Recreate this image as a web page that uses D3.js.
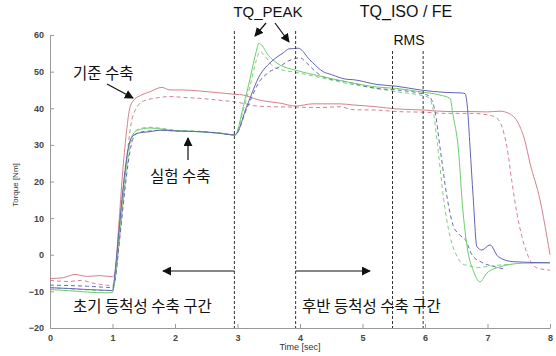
<!DOCTYPE html>
<html>
<head>
<meta charset="utf-8">
<script src="https://cdn.jsdelivr.net/npm/d3@7"></script>
<style>
  body { margin: 0; background: #fff; }
  svg { display: block; }
</style>
</head>
<body>
<script>
// 기준 수축 (red), 실험 수축 (blue / green), solid + dashed trials
const tRefSolid = [0, 0.2, 0.4, 0.6, 0.8, 1.0, 1.04, 1.1, 1.16, 1.22, 1.27, 1.33, 1.45, 1.6, 1.79, 1.92, 2.1, 2.4, 2.72, 2.96, 3.1, 3.31, 3.5, 3.68, 3.93, 4.2, 4.64, 4.85, 5.23, 5.55, 6.0, 6.35, 6.72, 7.0, 7.2, 7.35, 7.49, 7.6, 7.68, 7.84, 7.95, 8.0];
const vRefSolid = [-6.5, -6.3, -5.4, -5.9, -5.7, -6.0, -5, 8, 22, 33, 39.5, 42, 43.5, 44.5, 45.7, 45.0, 45.0, 44.7, 44.2, 43.8, 43.6, 42.4, 41.8, 41.4, 40.6, 41.2, 41.2, 40.9, 40.4, 39.8, 39.5, 39.1, 39.1, 39.0, 39.2, 38.5, 36, 31, 25, 15, 5, 0];

const tRefDash = [0, 0.3, 0.5, 0.7, 0.9, 1.0, 1.06, 1.12, 1.18, 1.24, 1.3, 1.4, 1.5, 1.7, 1.92, 2.1, 2.4, 2.7, 2.93, 3.1, 3.31, 3.6, 3.93, 4.32, 4.64, 4.85, 5.23, 5.55, 6.0, 6.35, 6.72, 7.0, 7.15, 7.23, 7.31, 7.39, 7.47, 7.55, 7.63, 7.79, 8.0];
const vRefDash = [-7.0, -7.3, -7.0, -7.8, -8.3, -8.5, -4, 6, 17, 28, 36, 40.5, 42, 42.8, 43.2, 43.0, 42.7, 42.2, 41.8, 41.3, 40.6, 40.4, 40.3, 40.2, 40.4, 39.6, 39.5, 39.1, 38.9, 38.6, 38.6, 38.2, 37.3, 35, 29.5, 20, 11.4, 5, 0.5, -3.6, -4.2];

const tBlueSolid = [0, 0.3, 0.6, 0.9, 1.0, 1.05, 1.1, 1.15, 1.2, 1.25, 1.3, 1.4, 1.6, 1.76, 2.0, 2.4, 2.7, 2.96, 3.15, 3.36, 3.52, 3.65, 3.73, 3.82, 3.9, 3.97, 4.05, 4.11, 4.2, 4.37, 4.5, 4.75, 4.85, 5.23, 5.55, 5.92, 6.35, 6.56, 6.64, 6.68, 6.72, 6.77, 6.83, 6.91, 7.04, 7.17, 7.41, 8.0];
const vBlueSolid = [-9.0, -9.2, -9.5, -9.7, -9.8, -3, 6, 15, 23, 29, 31.8, 33.2, 33.6, 34.0, 33.8, 33.6, 33.2, 32.7, 40.6, 49.1, 52.4, 54.2, 55.1, 56.2, 56.3, 56.4, 55.5, 54.1, 52.5, 50.0, 49.2, 47.9, 47.8, 46.5, 46.0, 45.0, 44.3, 44.2, 44.0, 40, 29.5, 15.9, 2.2, 1.3, 2.7, -0.5, -1.9, -2.2];

const tBlueDash = [0, 0.3, 0.6, 0.9, 1.0, 1.05, 1.1, 1.15, 1.2, 1.25, 1.3, 1.35, 1.45, 1.6, 1.8, 2.0, 2.4, 2.7, 2.96, 3.15, 3.36, 3.5, 3.68, 3.8, 3.93, 4.0, 4.11, 4.25, 4.37, 4.75, 5.23, 5.55, 5.92, 6.05, 6.15, 6.25, 6.35, 6.45, 6.55, 6.65, 6.75, 6.9, 7.1, 7.3];
const vBlueDash = [-8.3, -8.4, -8.6, -8.9, -9.0, -6, 2, 10, 18, 25, 30, 32.5, 33.5, 33.8, 34.0, 33.8, 33.6, 33.2, 32.7, 40, 47.5, 49.8, 51.4, 52.8, 53.6, 53.8, 52.3, 50, 48.6, 47.2, 45.4, 45.0, 44.1, 43.5, 40, 28, 16, 8, 5.5, 4, 0, -2.0, -3.2, -4.0];

const tGreenSolid = [0, 0.3, 0.6, 0.9, 1.0, 1.05, 1.1, 1.15, 1.2, 1.25, 1.3, 1.4, 1.6, 1.8, 2.0, 2.4, 2.7, 2.96, 3.1, 3.2, 3.3, 3.34, 3.4, 3.47, 3.58, 3.68, 3.93, 4.37, 4.75, 5.23, 5.55, 5.92, 6.24, 6.4, 6.45, 6.53, 6.61, 6.69, 6.77, 6.88, 6.99, 7.2, 7.57, 8.0];
const vGreenSolid = [-9.5, -9.8, -10.2, -10.4, -10.3, -4, 5, 14, 22, 28.5, 32, 34, 34.6, 34.3, 33.9, 33.6, 33.2, 32.7, 41, 48, 55.5, 57.7, 57, 55, 53, 51.8, 50.4, 48.6, 47.2, 45.8, 45.4, 44.5, 43.6, 42.7, 38, 29.5, 11.4, 0.5, -4.2, -7.4, -5, -3.3, -2.3, -2.2];

const tGreenDash = [0, 0.3, 0.6, 0.9, 1.0, 1.05, 1.1, 1.15, 1.2, 1.25, 1.3, 1.35, 1.45, 1.6, 1.8, 2.0, 2.4, 2.7, 2.96, 3.1, 3.2, 3.3, 3.36, 3.45, 3.57, 3.68, 3.93, 4.37, 4.75, 5.23, 5.55, 5.92, 6.05, 6.12, 6.2, 6.3, 6.4, 6.5, 6.6, 6.7, 6.85, 7.0, 7.2, 7.4];
const vGreenDash = [-9.0, -9.3, -9.6, -9.8, -9.6, -6, 2, 11, 19, 26, 31, 33.5, 34.5, 34.8, 34.5, 34.0, 33.7, 33.3, 32.8, 40, 46, 53, 55.5, 54, 51.4, 50.6, 49.8, 48.2, 46.8, 45.4, 44.5, 43.6, 43.0, 40.4, 30, 15, 5, 0, -2.5, -3.0, -3.5, -3.2, -2.8, -2.6];

const xTicks = [0, 1, 2, 3, 4, 5, 6, 7, 8];
const yTicks = [-20, -10, 0, 10, 20, 30, 40, 50, 60];
const markerTimes = [2.95, 3.93, 5.48, 5.97];

const series = [
  {t: tRefSolid, v: vRefSolid, color: "#d6808c", dash: null},
  {t: tRefDash, v: vRefDash, color: "#d08490", dash: "4,3"},
  {t: tGreenDash, v: vGreenDash, color: "#7cd080", dash: "4,3"},
  {t: tBlueDash, v: vBlueDash, color: "#6a6aa8", dash: "4,3"},
  {t: tGreenSolid, v: vGreenSolid, color: "#6ccc6c", dash: null},
  {t: tBlueSolid, v: vBlueSolid, color: "#6464b4", dash: null}
];

const W = 556, H = 356;
const svg = d3.select("body").append("svg")
    .attr("width", W)
    .attr("height", H);

const x = d3.scaleLinear().domain([0, 8]).range([50, 550]);
const y = d3.scaleLinear().domain([-20, 60]).range([328, 35]);

svg.append("defs").append("marker")
    .attr("id", "arr")
    .attr("viewBox", "0 0 10 10")
    .attr("refX", 9).attr("refY", 5)
    .attr("markerWidth", 9).attr("markerHeight", 9)
    .attr("markerUnits", "userSpaceOnUse")
    .attr("orient", "auto")
    .append("path")
    .attr("d", "M0,0L10,5L0,10z")
    .attr("fill", "#111");

// axes
const xAxis = svg.append("g")
    .attr("transform", "translate(0,328)")
    .call(d3.axisBottom(x).tickValues(xTicks).tickSizeInner(-4).tickSizeOuter(0).tickPadding(7));
const yAxis = svg.append("g")
    .attr("transform", "translate(50,0)")
    .call(d3.axisLeft(y).tickValues(yTicks).tickSizeInner(-4).tickSizeOuter(0).tickPadding(6));

[xAxis, yAxis].forEach(function(g) {
  g.select(".domain").attr("stroke", "#999");
  g.selectAll(".tick line").attr("stroke", "#999");
  g.selectAll(".tick text")
      .attr("fill", "#444")
      .style("font-family", "Liberation Sans, Arial, sans-serif")
      .style("font-size", "9px")
      .style("font-weight", "bold");
});

svg.append("text")
    .attr("x", 300).attr("y", 350)
    .attr("text-anchor", "middle")
    .style("font-family", "Liberation Sans, Arial, sans-serif")
    .style("font-size", "9px")
    .attr("fill", "#333")
    .text("Time [sec]");

svg.append("text")
    .attr("transform", "translate(18,185) rotate(-90)")
    .attr("text-anchor", "middle")
    .style("font-family", "Liberation Sans, Arial, sans-serif")
    .style("font-size", "8px")
    .attr("fill", "#333")
    .text("Torque [Nm]");

// data lines
const line = d3.line()
    .x(function(d) { return x(d[0]); })
    .y(function(d) { return y(d[1]); })
    .curve(d3.curveMonotoneX);

svg.selectAll("path.series")
    .data(series).enter()
    .append("path")
    .attr("class", "series")
    .attr("d", function(s) { return line(d3.zip(s.t, s.v)); })
    .attr("fill", "none")
    .attr("stroke", function(s) { return s.color; })
    .attr("stroke-width", 1)
    .attr("stroke-dasharray", function(s) { return s.dash; });

// vertical marker lines
svg.selectAll("line.marker")
    .data(markerTimes).enter()
    .append("line")
    .attr("class", "marker")
    .attr("x1", function(d) { return x(d); })
    .attr("x2", function(d) { return x(d); })
    .attr("y1", function(d, i) { return i < 2 ? 31 : 51; })
    .attr("y2", 328)
    .attr("stroke", "#333")
    .attr("stroke-width", 1)
    .attr("stroke-dasharray", "3,2");

// annotations
const latin = "Liberation Sans, Arial, sans-serif";
const kor = "Noto Sans CJK KR, sans-serif";

function label(txt, tx, ty, size, font, anchor) {
  svg.append("text")
      .attr("x", tx).attr("y", ty)
      .attr("text-anchor", anchor || "start")
      .style("font-family", font)
      .style("font-size", size + "px")
      .attr("fill", "#111")
      .text(txt);
}
function arrow(x1, y1, x2, y2) {
  svg.append("line")
      .attr("x1", x1).attr("y1", y1)
      .attr("x2", x2).attr("y2", y2)
      .attr("stroke", "#111")
      .attr("stroke-width", 1.2)
      .attr("marker-end", "url(#arr)");
}

label("TQ_PEAK", 268, 17, 15, latin, "middle");
label("TQ_ISO / FE", 406, 17, 16, latin, "middle");
label("RMS", 409, 45, 14, latin, "middle");
label("기준 수축", 73, 79, 15.5, kor);
label("실험 수축", 150, 182, 15.5, kor);
label("초기 등척성 수축 구간", 73, 312, 15.5, kor);
label("후반 등척성 수축 구간", 302, 312, 15.5, kor);

arrow(266, 23, 255, 36);
arrow(275, 23, 289, 42);
arrow(107, 84, 133, 98);
arrow(188, 160, 188, 138);
arrow(x(markerTimes[0]), 271, 163, 271);
arrow(x(markerTimes[1]), 271, 370, 271);
</script>
</body>
</html>
